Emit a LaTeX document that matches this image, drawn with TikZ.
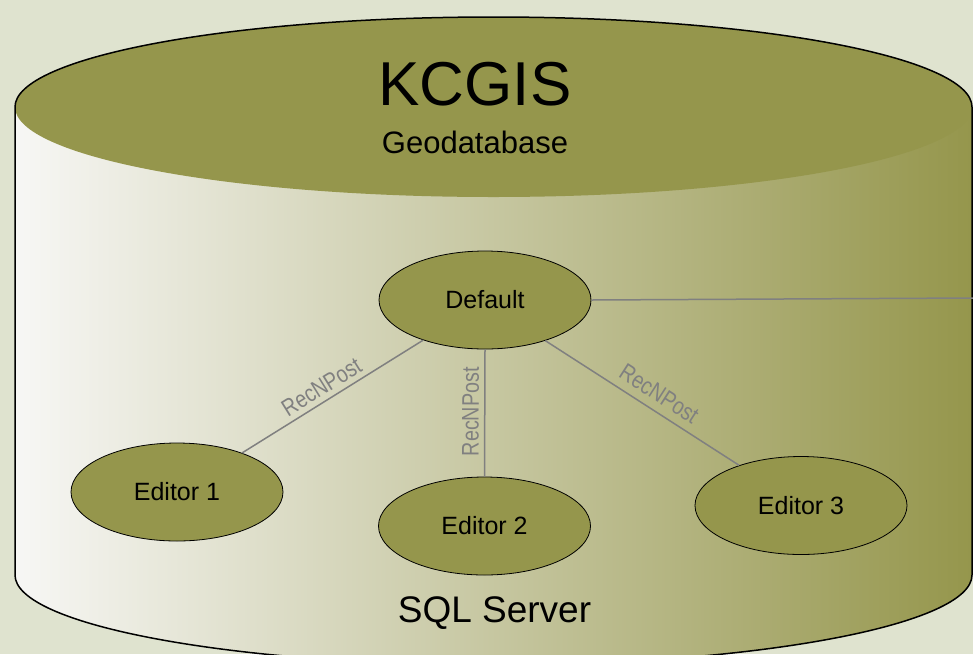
\documentclass[tikz,border=0pt]{standalone}
\usepackage{fontspec}
\setmainfont{Liberation Sans}
\newfontfamily\narrowfont[FakeStretch=0.82]{Liberation Sans}
\usetikzlibrary{shapes.geometric}
\definecolor{dbback}{HTML}{DFE3CF}
\definecolor{dbolive}{HTML}{95964C}
\definecolor{dbwhite}{HTML}{F7F7F5}
\definecolor{linkgray}{HTML}{808080}
\tikzset{
  % a version of the geodatabase
  version/.style = {
    draw = black,
    line width = 0.8pt,
    fill = dbolive,
    ellipse,
    minimum width = 212pt,
    minimum height = 98pt,
    inner sep = 0,
    font = \fontsize{25}{25}\selectfont
  },
  % reconcile and post connector
  link/.style = {
    draw = linkgray,
    line width = 1.5pt
  },
  link label/.style = {
    sloped,
    inner sep = 0,
    text = linkgray,
    font = \narrowfont\fontsize{24}{24}\selectfont
  },
  caption/.style = {
    anchor = base,
    inner sep = 0
  }
}

\begin{document}
\begin{tikzpicture}[x=1pt, y=-1pt]
    \fill[dbback] (0,0) rectangle (973,654);
    \useasboundingbox (0,0) rectangle (973,654);

    % database cylinder
    \path[left color=dbwhite, right color=dbolive]
      (15,107) -- (972,107) -- (972,575)
      arc[start angle=0, end angle=-180, x radius=478.5pt, y radius=90pt]
      -- cycle;
    \fill[dbolive] (493.5,107) ellipse[x radius=478.5pt, y radius=90pt];
    \draw[line width=1.5pt]
      (15,575) -- (15,107)
      arc[start angle=180, end angle=0, x radius=478.5pt, y radius=90pt]
      -- (972,575)
      arc[start angle=0, end angle=-180, x radius=478.5pt, y radius=90pt];

    \node[caption, font=\fontsize{62}{62}\selectfont] (title) at (475,105) {KCGIS};
    \node[caption, font=\fontsize{31}{31}\selectfont] (subtitle) at (475,153) {Geodatabase};
    \node[caption, font=\fontsize{37}{37}\selectfont] (server) at (494.5,622) {SQL Server};

    \node[version] (default) at (485,300) {Default};
    \node[version] (editor-1) at (177,492) {Editor 1};
    \node[version] (editor-2) at (484.5,526) {Editor 2};
    \node[version] (editor-3) at (801,505.5) {Editor 3};

    \coordinate (rim) at (973,298);

    \draw[link] (editor-1.31) -- node[link label, above=5pt, pos=0.48] (label-1) {RecNPost} (default.213);
    \draw[link] (editor-2.north) -- node[link label, above=5pt, pos=0.51] (label-2) {RecNPost} (default.south);
    \draw[link] (default.326) -- node[link label, above=8pt, pos=0.54] (label-3) {RecNPost} (editor-3.147);
    \draw[link] (default.east) -- (rim);
\end{tikzpicture}
\end{document}
